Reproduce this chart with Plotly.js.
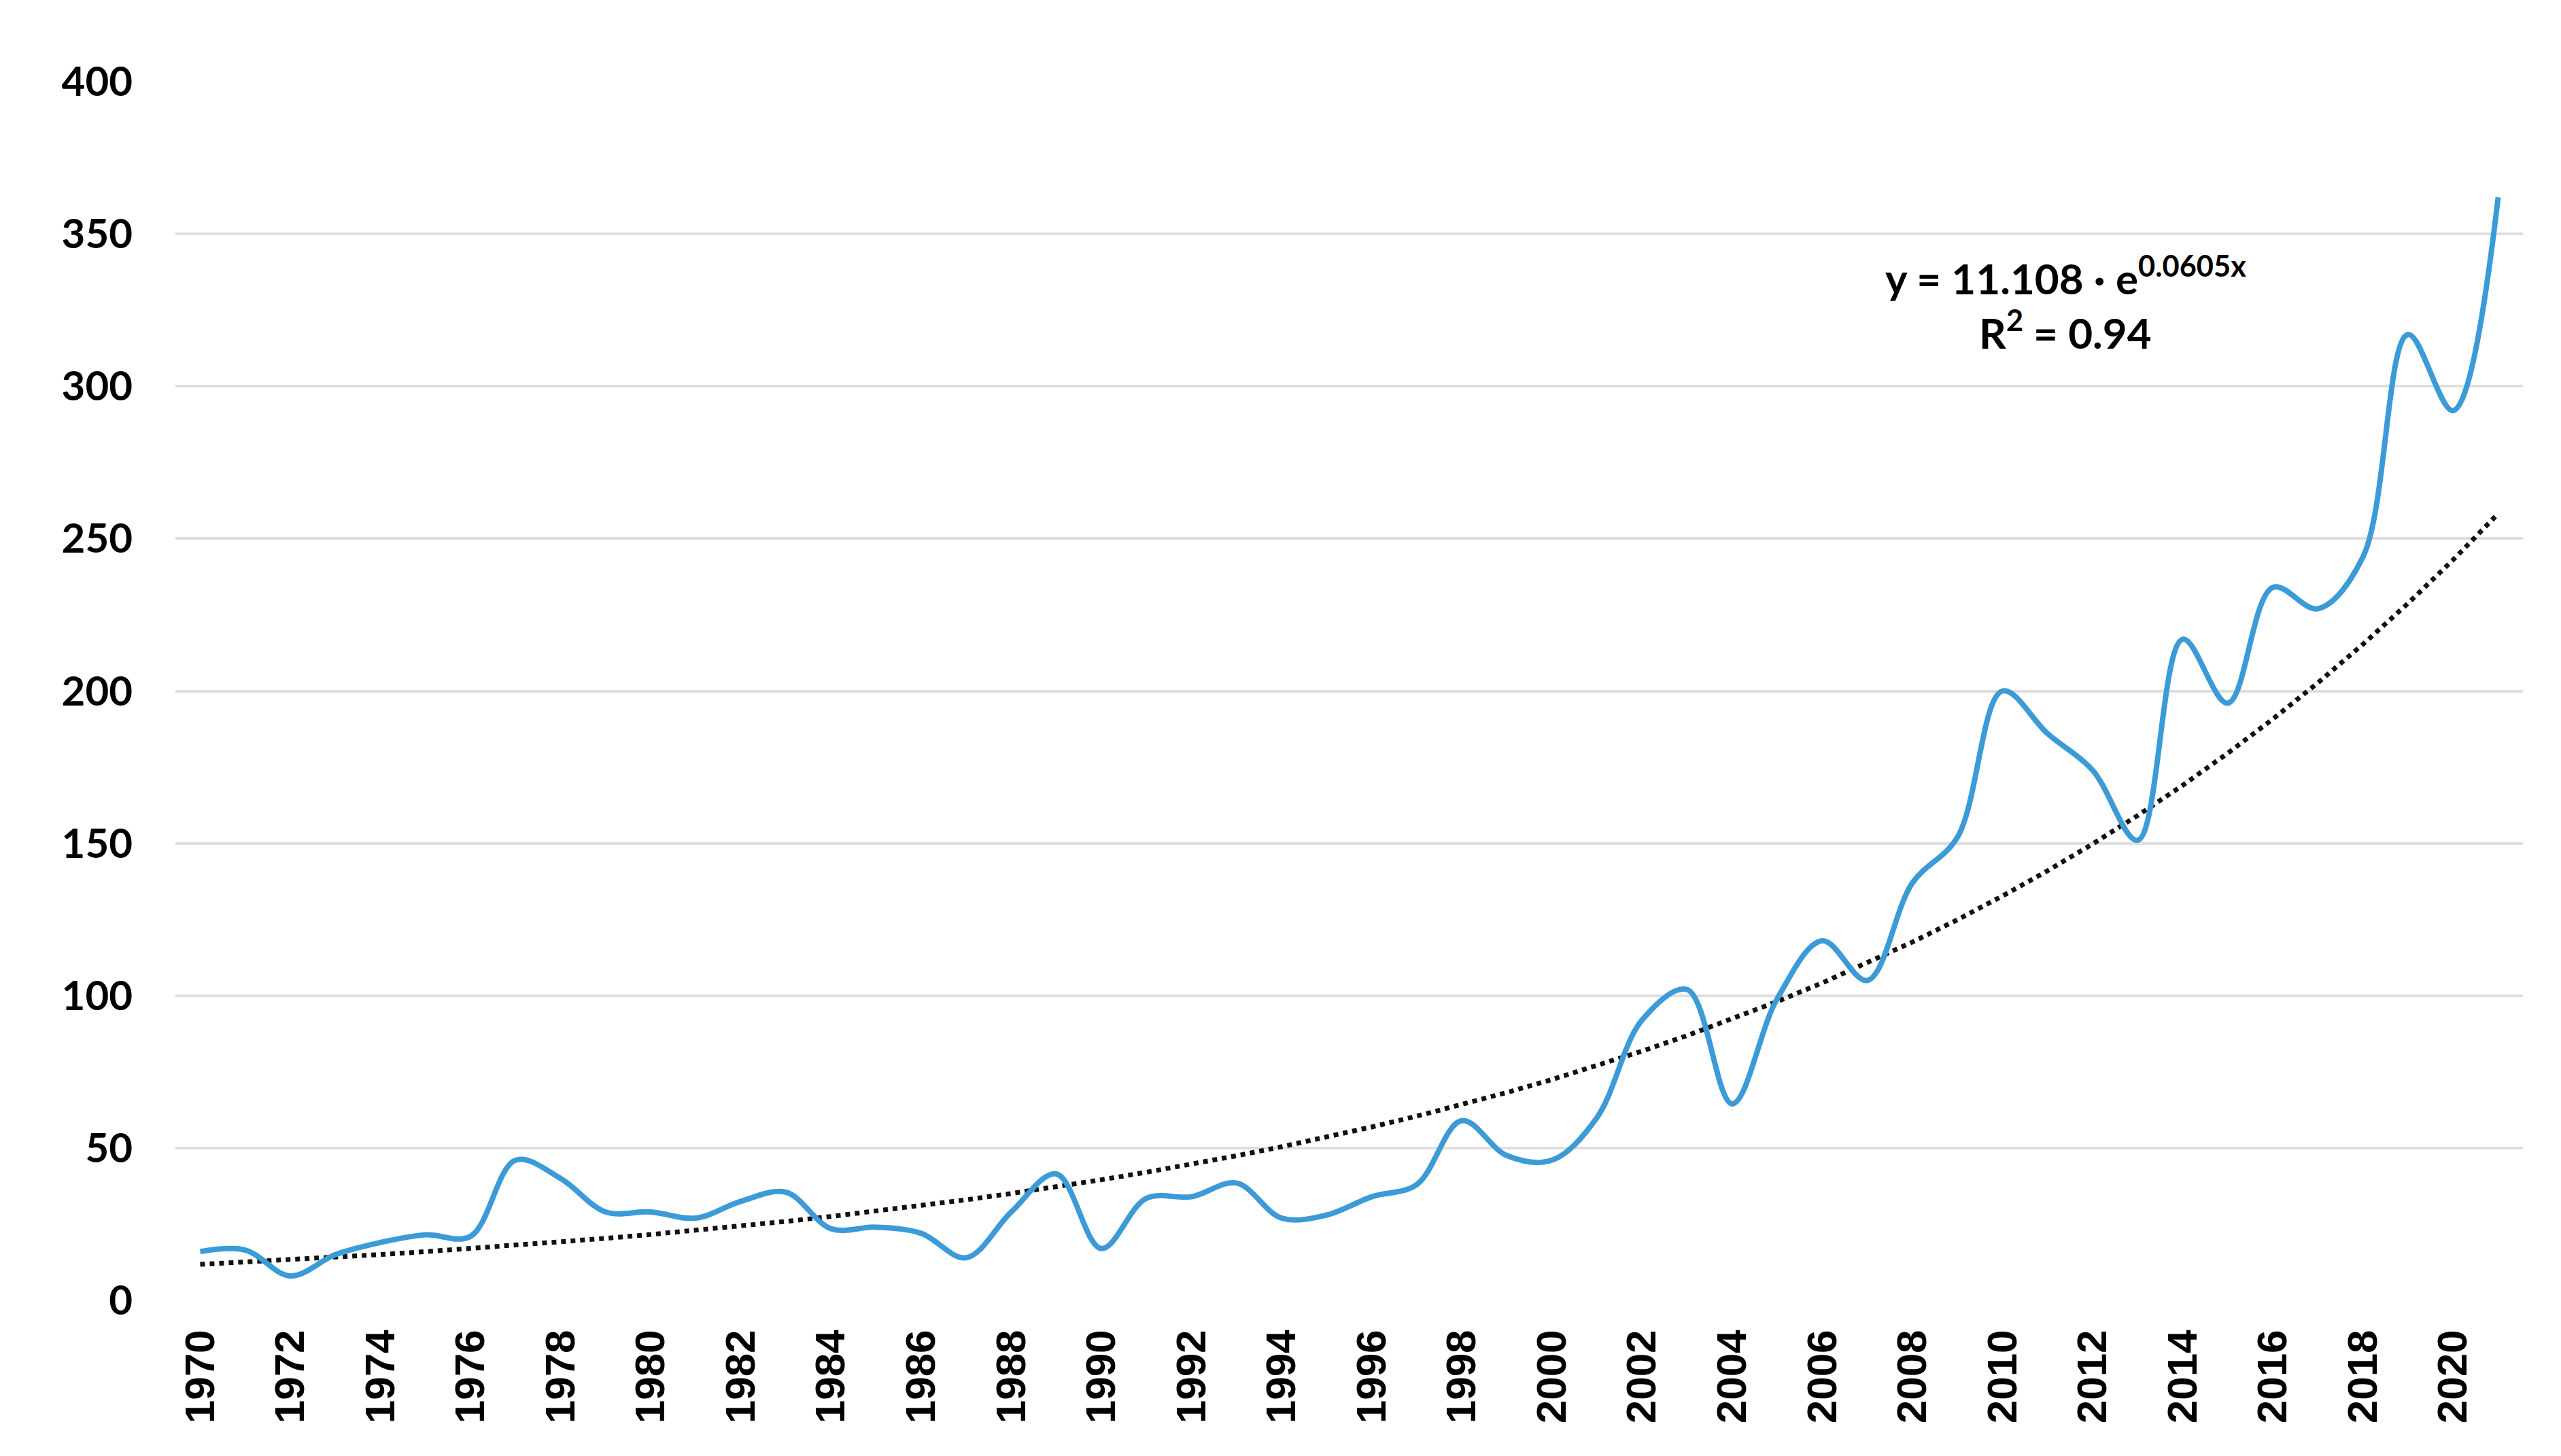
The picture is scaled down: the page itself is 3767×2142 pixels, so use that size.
<!DOCTYPE html>
<html>
<head>
<meta charset="utf-8">
<script src="https://cdn.plot.ly/plotly-3.0.1.min.js"></script>
<style>html,body{margin:0;padding:0;background:#fff;}#chart{width:3767px;height:2142px;}</style>
</head>
<body>
<div id="chart"></div>
<script>
// Data
const years = [1970,1971,1972,1973,1974,1975,1976,1977,1978,1979,1980,1981,1982,1983,1984,1985,1986,1987,1988,1989,1990,1991,1992,1993,1994,1995,1996,1997,1998,1999,2000,2001,2002,2003,2004,2005,2006,2007,2008,2009,2010,2011,2012,2013,2014,2015,2016,2017,2018,2019,2020,2021];
const values = [16,16.5,8,15,19,21.5,21,46,40,29,29,27,32.5,35.5,23.5,24,22,14,29,41.5,17,33.5,34,38.5,27,28,34,38,59,47.5,46,60,92,102,64.5,99,118,105,137,152,200,186,174,151,217,196,234,227,244,317,292,362];
const xTickVals = [1970,1972,1974,1976,1978,1980,1982,1984,1986,1988,1990,1992,1994,1996,1998,2000,2002,2004,2006,2008,2010,2012,2014,2016,2018,2020];
const xTickText = xTickVals.map(String);
const yTickVals = [0,50,100,150,200,250,300,350,400];
// Trendline coefficients as printed in the chart: y = 11.108 * e^(0.0605 x), x = 1..N
const trendA = 11.108;
const trendB = 0.0605;
const trendIndex = years.map((_, i) => i + 1);
const trendValues = trendIndex.map(k => trendA * Math.exp(trendB * k));

const traces = [
  {
    x: years, y: trendValues, type: 'scatter', mode: 'lines',
    line: {color: '#111111', width: 7, dash: 'dot'},
    hoverinfo: 'skip', showlegend: false
  },
  {
    x: years, y: values, type: 'scatter', mode: 'lines',
    line: {color: '#3c9bd6', width: 8, shape: 'spline', smoothing: 1},
    showlegend: false
  }
];

const layout = {
  width: 3767, height: 2142,
  paper_bgcolor: '#ffffff', plot_bgcolor: '#ffffff',
  margin: {l: 258, r: 56, t: 120, b: 229},
  showlegend: false,
  xaxis: {
    range: [1969.45, 2021.55],
    tickmode: 'array', tickvals: xTickVals, ticktext: xTickText,
    tickangle: -90,
    tickfont: {family: 'Liberation Sans, Arial, sans-serif', size: 62, color: '#000000', weight: 'bold'},
    showgrid: false, zeroline: false, showline: false,
    ticks: '', ticklabelstandoff: 30
  },
  yaxis: {
    range: [0, 400],
    tickmode: 'array', tickvals: yTickVals,
    tickfont: {family: 'Lato, sans-serif', size: 60, color: '#000000', weight: 'bold'},
    showgrid: true, gridcolor: '#dedede', gridwidth: 4,
    zeroline: false, showline: false, ticks: '', ticklabelstandoff: 62
  },
  annotations: [
    {
      x: 2011.4, y: 336.5, xref: 'x', yref: 'y',
      text: '<b>y = 11.108 · e<sup>0.0605x</sup></b>',
      showarrow: false, xanchor: 'center', yanchor: 'middle',
      font: {family: 'Lato, sans-serif', size: 62, color: '#000000'}
    },
    {
      x: 2011.4, y: 318.5, xref: 'x', yref: 'y',
      text: '<b>R<sup>2</sup> = 0.94</b>',
      showarrow: false, xanchor: 'center', yanchor: 'middle',
      font: {family: 'Lato, sans-serif', size: 62, color: '#000000'}
    }
  ]
};

Plotly.newPlot('chart', traces, layout, {displayModeBar: false, staticPlot: true});
</script>
</body>
</html>
